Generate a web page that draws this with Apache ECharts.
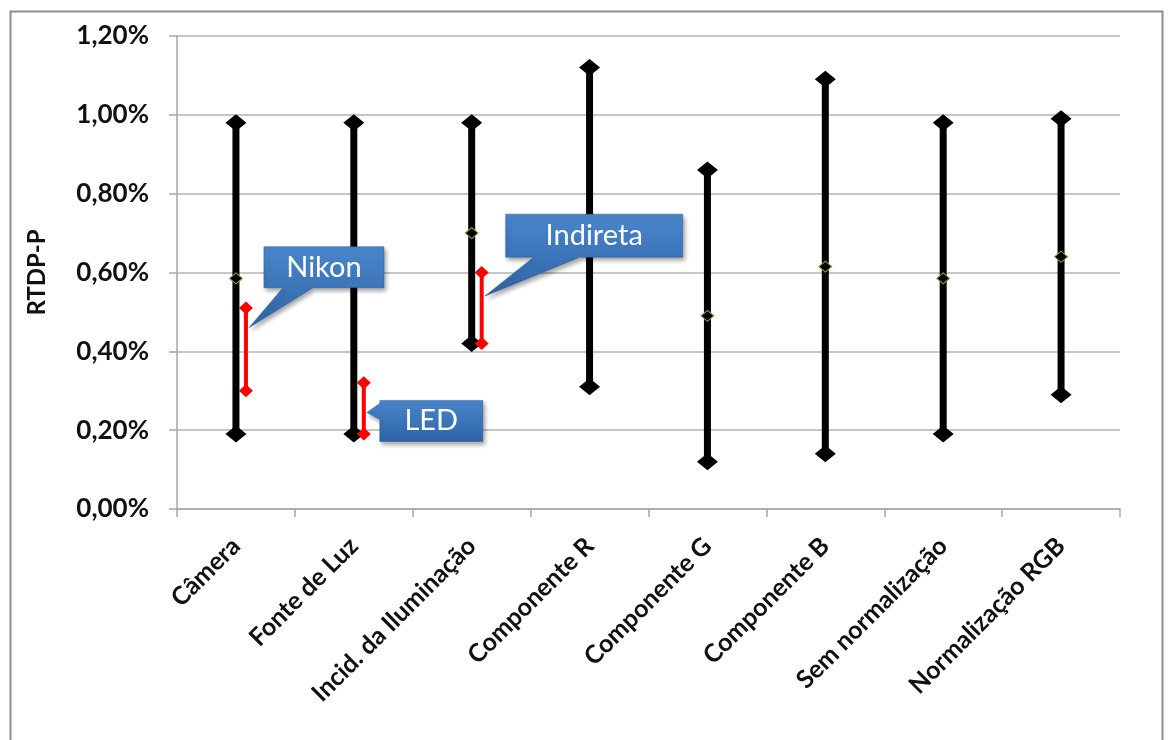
<!DOCTYPE html>
<html>
<head>
<meta charset="utf-8">
<script src="https://cdn.jsdelivr.net/npm/echarts@6/dist/echarts.min.js"></script>
<style>
html,body{margin:0;padding:0;background:#fff;}
#c{width:1173px;height:740px;}
</style>
</head>
<body>
<div id="c"></div>
<script>
// ---- data (values in %) ----
const categories = ['Câmera','Fonte de Luz','Incid. da Iluminação','Componente R','Componente G','Componente B','Sem normalização','Normalização RGB'];
const maxVals = [0.98, 0.98, 0.98, 1.12, 0.86, 1.09, 0.98, 0.99];
const minVals = [0.19, 0.19, 0.42, 0.31, 0.12, 0.14, 0.19, 0.29];
const midVals = [0.585, 0.585, 0.70, 0.715, 0.49, 0.615, 0.585, 0.64];
// red sub-ranges: [categoryIndex, low, high]
const redRanges = [[0, 0.30, 0.51], [1, 0.19, 0.32], [2, 0.42, 0.60]];
const calloutLabels = ['Nikon', 'LED', 'Indireta'];
const calloutAnchors = [[0, 0.46], [1, 0.245], [2, 0.54]];
const yTicks = [0, 0.2, 0.4, 0.6, 0.8, 1.0, 1.2];

const FONT = 'Lato, "Open Sans", sans-serif';
const RED_OFF = 10;

const chart = echarts.init(document.getElementById('c'), null, {renderer: 'canvas'});

const blackData = categories.map((c, i) => [i, minVals[i], maxVals[i]]);
const redData = redRanges.map(r => [r[0], r[1], r[2]]);

const option = {
  animation: false,
  backgroundColor: '#fff',
  grid: {left: 177, right: 53, top: 36, bottom: 231, containLabel: false},
  xAxis: {
    type: 'category',
    data: categories,
    boundaryGap: true,
    axisLine: {show: true, lineStyle: {color: '#a6a6a6', width: 1.5}},
    axisTick: {show: true, length: 8, lineStyle: {color: '#a6a6a6', width: 1.5}},
    axisLabel: {rotate: 45, margin: 33, fontFamily: FONT, fontWeight: 'bold', fontSize: 25, color: '#111', interval: 0},
    splitLine: {show: false}
  },
  yAxis: {
    type: 'value',
    min: yTicks[0], max: yTicks[yTicks.length - 1], interval: 0.2,
    name: 'RTDP-P', nameLocation: 'middle', nameGap: 128, nameRotate: 90,
    nameTextStyle: {fontFamily: FONT, fontWeight: 'bold', fontSize: 24, color: '#111'},
    axisLine: {show: true, lineStyle: {color: '#a6a6a6', width: 1.5}},
    axisTick: {show: true, length: 8, lineStyle: {color: '#a6a6a6', width: 1.5}},
    axisLabel: {margin: 28, fontFamily: FONT, fontWeight: 'bold', fontSize: 26, color: '#111',
      formatter: v => v.toFixed(2).replace('.', ',') + '%'},
    splitLine: {show: true, lineStyle: {color: '#b3b3b3', width: 1.5}}
  },
  series: [
    {
      type: 'custom', name: 'range', data: blackData, z: 2,
      renderItem: (params, api) => {
        const a = api.coord([api.value(0), api.value(1)]);
        const b = api.coord([api.value(0), api.value(2)]);
        return {type: 'line', shape: {x1: a[0], y1: a[1], x2: b[0], y2: b[1]}, style: {stroke: '#000', lineWidth: 7}};
      }
    },
    {type: 'scatter', name: 'max', data: maxVals.map((v, i) => [i, v]), symbol: 'diamond', symbolSize: [21, 17], itemStyle: {color: '#000', opacity: 1}, z: 3},
    {type: 'scatter', name: 'min', data: minVals.map((v, i) => [i, v]), symbol: 'diamond', symbolSize: [21, 17], itemStyle: {color: '#000', opacity: 1}, z: 3},
    {type: 'scatter', name: 'mid', data: midVals.map((v, i) => [i, v]), symbol: 'diamond', symbolSize: [13, 11], itemStyle: {color: '#000', borderColor: '#8ea04a', borderWidth: 1, opacity: 1}, z: 4},
    {
      type: 'custom', name: 'redRange', data: redData, z: 5,
      renderItem: (params, api) => {
        const a = api.coord([api.value(0), api.value(1)]);
        const b = api.coord([api.value(0), api.value(2)]);
        return {type: 'line', shape: {x1: a[0] + RED_OFF, y1: a[1], x2: b[0] + RED_OFF, y2: b[1]}, style: {stroke: '#ff0000', lineWidth: 4}};
      }
    },
    {type: 'scatter', name: 'redLo', data: redRanges.map(r => [r[0], r[1]]), symbol: 'diamond', symbolSize: [14, 13], symbolOffset: [RED_OFF, 0], itemStyle: {color: '#ff0000', opacity: 1}, z: 6},
    {type: 'scatter', name: 'redHi', data: redRanges.map(r => [r[0], r[2]]), symbol: 'diamond', symbolSize: [14, 13], symbolOffset: [RED_OFF, 0], itemStyle: {color: '#ff0000', opacity: 1}, z: 6}
  ]
};
chart.setOption(option);

// ---- callouts anchored on the red ranges ----
const grad = new echarts.graphic.LinearGradient(0, 0, 0, 1, [
  {offset: 0, color: '#4a86cc'}, {offset: 1, color: '#2e64a6'}
]);
const calloutGeom = [
  {box: [15, -81, 120, 41], tail: 'bottom', base: [34, 64]},
  {box: [13, -12, 103, 41], tail: 'left', base: [-9, 7]},
  {box: [21, -82, 177, 43], tail: 'bottom', base: [49, 95]}
];
const graphics = [];
calloutAnchors.forEach((anc, k) => {
  const p = chart.convertToPixel({xAxisIndex: 0, yAxisIndex: 0}, anc);
  const tx = p[0] + RED_OFF + 3, ty = p[1];
  const g = calloutGeom[k];
  const bx = tx + g.box[0], by = ty + g.box[1], bw = g.box[2], bh = g.box[3];
  let pts;
  if (g.tail === 'bottom') {
    pts = [[bx, by], [bx + bw, by], [bx + bw, by + bh], [tx + g.base[1], by + bh], [tx, ty], [tx + g.base[0], by + bh], [bx, by + bh]];
  } else {
    pts = [[bx, by], [bx + bw, by], [bx + bw, by + bh], [bx, by + bh], [bx, ty + g.base[1]], [tx, ty], [bx, ty + g.base[0]]];
  }
  graphics.push({
    type: 'polygon', z: 100,
    shape: {points: pts},
    style: {fill: grad, stroke: '#2f5f98', lineWidth: 0.5, shadowBlur: 4, shadowOffsetX: 2, shadowOffsetY: 3, shadowColor: 'rgba(0,0,0,0.35)'}
  });
  graphics.push({
    type: 'text', z: 101,
    x: bx + bw / 2, y: by + bh / 2,
    style: {text: calloutLabels[k], fill: '#fff', font: '29px ' + FONT, textAlign: 'center', textVerticalAlign: 'middle'}
  });
});
graphics.push({type: 'rect', z: 0, shape: {x: 10.5, y: 11.5, width: 1152, height: 740}, style: {fill: 'none', stroke: '#8c8c8c', lineWidth: 2}});
chart.setOption({graphic: graphics});
</script>
</body>
</html>
